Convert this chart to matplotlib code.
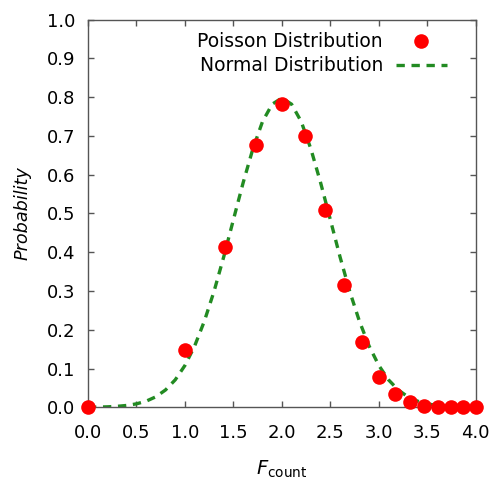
import matplotlib
matplotlib.use('Agg')
import matplotlib.pyplot as plt

# Poisson points (x = F_count, y = probability)
poisson_x = [0.0, 1.0, 1.414, 1.732, 2.0, 2.236, 2.449, 2.646, 2.828,
             3.0, 3.162, 3.317, 3.464, 3.606, 3.742, 3.873, 4.0]
poisson_y = [0.0, 0.147, 0.414, 0.677, 0.782, 0.699, 0.510, 0.315, 0.168,
             0.079, 0.034, 0.013, 0.004, 0.001, 0.0, 0.0, 0.0]

# Normal curve, read at 0.1 steps
normal_x = [0.0, 0.1, 0.2, 0.3, 0.4, 0.5, 0.6, 0.7, 0.8, 0.9,
            1.0, 1.1, 1.2, 1.3, 1.4, 1.5, 1.6, 1.7, 1.8, 1.9,
            2.0, 2.1, 2.2, 2.3, 2.4, 2.5, 2.6, 2.7, 2.8, 2.9,
            3.0, 3.1, 3.2, 3.3, 3.4, 3.5, 3.6, 3.7, 3.8, 3.9, 4.0]
normal_y = [0.0003, 0.0006, 0.0012, 0.0025, 0.0048, 0.0089, 0.0158, 0.0271, 0.0448, 0.0709,
            0.108, 0.158, 0.222, 0.299, 0.388, 0.484, 0.579, 0.666, 0.737, 0.782,
            0.798, 0.782, 0.737, 0.666, 0.579, 0.484, 0.388, 0.299, 0.222, 0.158,
            0.108, 0.0709, 0.0448, 0.0271, 0.0158, 0.0089, 0.0048, 0.0025, 0.0012, 0.0006, 0.0003]

x_ticks = [0.0, 0.5, 1.0, 1.5, 2.0, 2.5, 3.0, 3.5, 4.0]
y_ticks = [0.0, 0.1, 0.2, 0.3, 0.4, 0.5, 0.6, 0.7, 0.8, 0.9, 1.0]

fig = plt.figure(figsize=(4.93, 4.79), dpi=100)
ax = fig.add_axes([0.1785, 0.1497, 0.7865, 0.8092])

ax.plot(poisson_x, poisson_y, 'o', color='#ff0000', markersize=10.5,
        markeredgewidth=0, label='Poisson Distribution', clip_on=False, zorder=3)
ax.plot(normal_x, normal_y, color='#228b22', lw=2.4, linestyle=(0, (2.5, 2)),
        label='Normal Distribution', zorder=2)

ax.set_xlim(0, 4)
ax.set_ylim(0, 1)
ax.set_xticks(x_ticks)
ax.set_yticks(y_ticks)
ax.set_xticklabels([f'{t:.1f}' for t in x_ticks])
ax.set_yticklabels([f'{t:.1f}' for t in y_ticks])

for s in ax.spines.values():
    s.set_color('#555555')
    s.set_linewidth(1.0)
ax.tick_params(direction='in', length=4, width=1, color='#555555',
               top=True, right=True, labelsize=13)
ax.tick_params(axis='x', pad=12)
ax.tick_params(axis='y', pad=9)

ax.set_xlabel(r'$F_{\mathrm{count}}$', fontsize=14, labelpad=12)
ax.set_ylabel('Probability', fontsize=12.7, style='italic', labelpad=11)

ax.legend(loc='upper right', bbox_to_anchor=(0.925, 0.967), frameon=False,
          markerfirst=False, fontsize=13.5, handlelength=2.7,
          handletextpad=0.7, labelspacing=0.25, borderpad=0, borderaxespad=0)

fig.savefig('out.png', dpi=100)
